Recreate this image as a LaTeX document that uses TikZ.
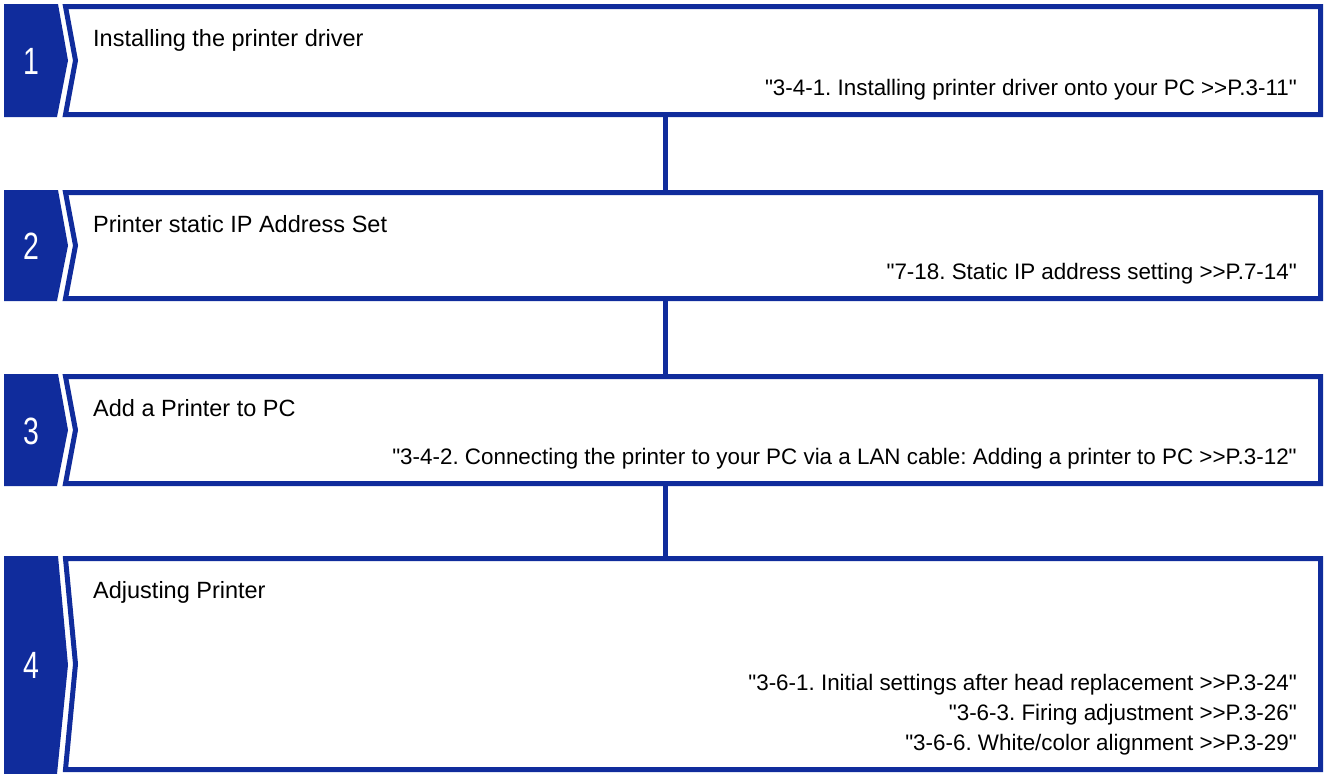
\documentclass[tikz,border=0pt]{standalone}
\usepackage{fontspec}
\setmainfont{Liberation Sans}[Ligatures=TeXOff]
\usepackage{graphicx}
\definecolor{stepblue}{RGB}{16,44,156}
\begin{document}
\frenchspacing
\begin{tikzpicture}[x=1pt,y=-1pt,
  titletext/.style={anchor=base west, font=\fontsize{23.5}{28}\selectfont, inner sep=0pt},
  reftext/.style={anchor=base east, font=\fontsize{22.4}{30}\selectfont, inner sep=0pt},
  numtext/.style={text=white, font=\fontsize{38}{38}\selectfont, inner sep=0pt},
  badge/.style={fill=stepblue},
  stepframe/.style={draw=stepblue, line width=5pt, fill=white},
  link/.style={draw=stepblue, line width=5pt}]
\path[use as bounding box] (0,0) rectangle (1326,774);

% ---- step 1
\fill[badge] (4,4) -- (58,4) -- (68,60.5) -- (57,117) -- (4,117) -- cycle;
\draw[stepframe] (65.5,6.5) -- (1320.5,6.5) -- (1320.5,114.5) -- (65.5,114.5) -- (75.5,60.5) -- cycle;
\node[numtext] (n1) at (31,61) {\scalebox{0.75}[1]{1}};
\node[titletext] (t1) at (93,46) {Installing the printer driver};
\node[reftext] (r1) at (1297,95) {"3-4-1. Installing printer driver onto your PC >>P.3-11"};
\coordinate (s1b) at (665,117);

% ---- step 2
\fill[badge] (4,190) -- (58,190) -- (68,245.5) -- (57,301) -- (4,301) -- cycle;
\draw[stepframe] (65.5,192.5) -- (1320.5,192.5) -- (1320.5,298.5) -- (65.5,298.5) -- (75.5,245.5) -- cycle;
\node[numtext] (n2) at (31,246) {\scalebox{0.75}[1]{2}};
\node[titletext] (t2) at (93,232) {Printer static IP Address Set};
\node[reftext] (r2) at (1297,279) {"7-18. Static IP address setting >>P.7-14"};
\coordinate (s2t) at (665,190);
\coordinate (s2b) at (665,301);

% ---- step 3
\fill[badge] (4,374) -- (58,374) -- (68,430) -- (57,486) -- (4,486) -- cycle;
\draw[stepframe] (65.5,376.5) -- (1320.5,376.5) -- (1320.5,483.5) -- (65.5,483.5) -- (75.5,430) -- cycle;
\node[numtext] (n3) at (31,431) {\scalebox{0.75}[1]{3}};
\node[titletext] (t3) at (93,416) {Add a Printer to PC};
\node[reftext] (r3) at (1297,464) {"3-4-2. Connecting the printer to your PC via a LAN cable: Adding a printer to PC >>P.3-12"};
\coordinate (s3t) at (665,374);
\coordinate (s3b) at (665,486);

% ---- step 4
\fill[badge] (4,556) -- (58,556) -- (68,665) -- (57,774) -- (4,774) -- cycle;
\draw[stepframe] (65.5,558.5) -- (1320.5,558.5) -- (1320.5,769.5) -- (65.5,769.5) -- (75.5,664) -- cycle;
\node[numtext] (n4) at (31,665) {\scalebox{0.75}[1]{4}};
\node[titletext] (t4) at (93,598) {Adjusting Printer};
\node[reftext] (r4a) at (1297,690) {"3-6-1. Initial settings after head replacement >>P.3-24"};
\node[reftext] (r4b) at (1297,720) {"3-6-3. Firing adjustment >>P.3-26"};
\node[reftext] (r4c) at (1297,750) {"3-6-6. White/color alignment >>P.3-29"};
\coordinate (s4t) at (665,556);

% ---- connectors
\draw[link] (s1b) -- (s2t);
\draw[link] (s2b) -- (s3t);
\draw[link] (s3b) -- (s4t);
\end{tikzpicture}
\end{document}
